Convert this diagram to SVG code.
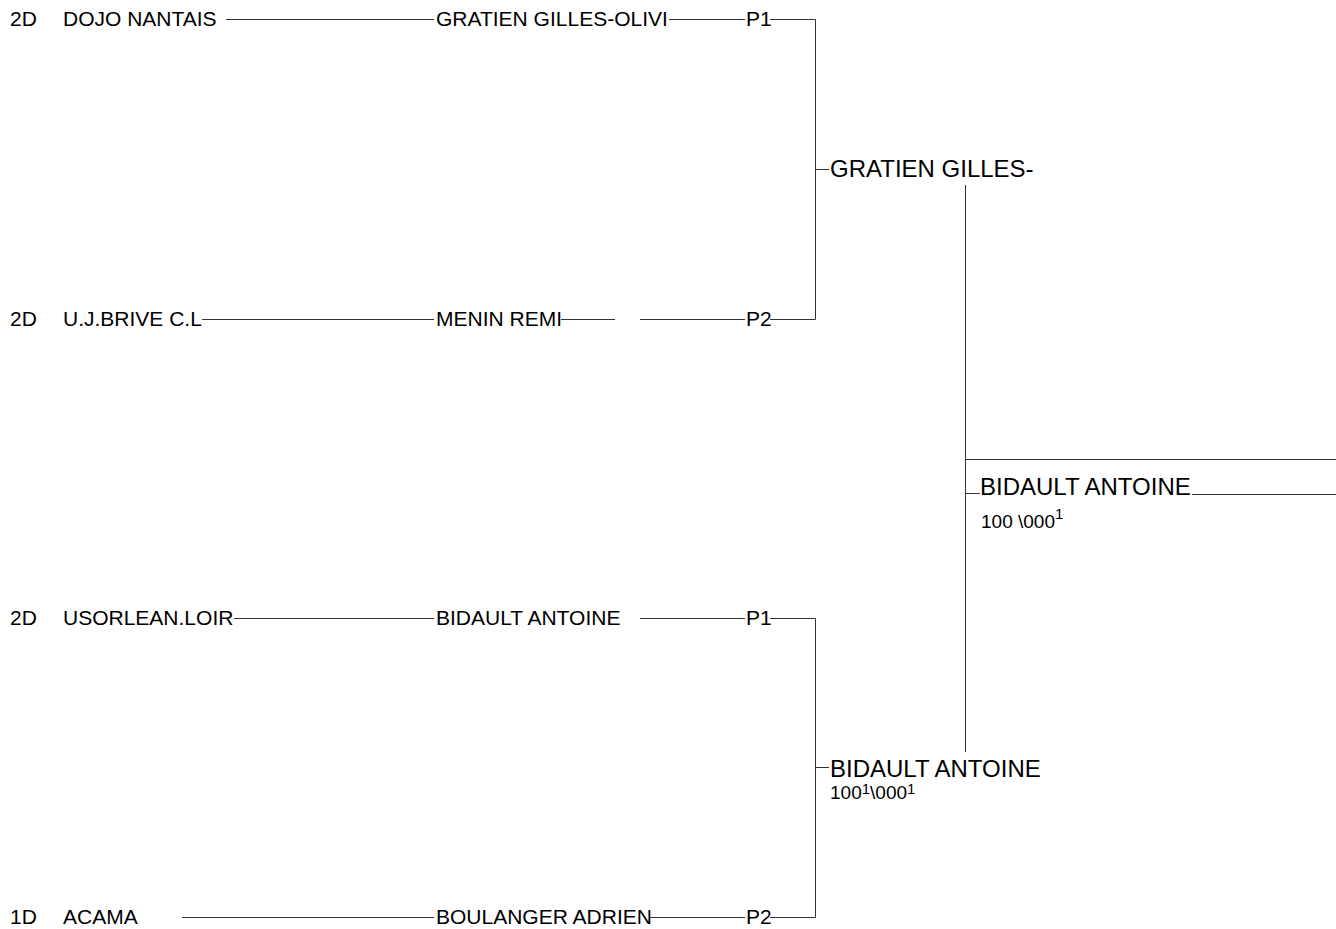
<svg xmlns="http://www.w3.org/2000/svg" width="1336" height="929" viewBox="0 0 1336 929">
<style>
text{font-family:"Liberation Sans",Arial,sans-serif;fill:#000}
.t{font-size:21px}
.b{font-size:24px}
.s{font-size:19px}
.sup{font-size:15px}
.ln{stroke:#333;stroke-width:1;fill:none}
</style>
<rect width="1336" height="929" fill="#fff"/>
<g id="connectors">
<path class="ln" d="M226 19.5H434M669 19.5H745M770 19.5H815.5V319.5H770M745 319.5H640M615 319.5H561M202 319.5H434"/>
<path class="ln" d="M234 618.5H434M640 618.5H745M770 618.5H815.5V917.5H770M745 917.5H650M182 917.5H434"/>
<path class="ln" d="M815 169.5H829M815 767.5H829M965.5 185V752"/>
<path class="ln" d="M965 459.5H1336M965 493.5H980M1192 494.5H1336"/>
</g>
<g id="r1"><text class="t" x="10" y="26">2D</text><text class="t" x="63" y="26">DOJO NANTAIS</text></g>
<g id="r1w"><text class="t" x="436" y="26">GRATIEN GILLES-OLIVI</text><text class="t" x="746" y="26">P1</text></g>
<g id="r2"><text class="t" x="10" y="326">2D</text><text class="t" x="63" y="326">U.J.BRIVE C.L</text></g>
<g id="r2w"><text class="t" x="436" y="326">MENIN REMI</text><text class="t" x="746" y="326">P2</text></g>
<g id="r3"><text class="t" x="10" y="625">2D</text><text class="t" x="63" y="625">USORLEAN.LOIR</text></g>
<g id="r3w"><text class="t" x="436" y="625">BIDAULT ANTOINE</text><text class="t" x="746" y="625">P1</text></g>
<g id="r4"><text class="t" x="10" y="924">1D</text><text class="t" x="63" y="924">ACAMA</text></g>
<g id="r4w"><text class="t" x="436" y="924">BOULANGER ADRIEN</text><text class="t" x="746" y="924">P2</text></g>
<g id="semi1"><text class="b" x="830" y="177">GRATIEN GILLES-</text></g>
<g id="semi2"><text class="b" x="830" y="777">BIDAULT ANTOINE</text><text class="s" x="830" y="799">100<tspan class="sup" dy="-5">1</tspan><tspan dy="5">\000</tspan><tspan class="sup" dy="-5">1</tspan></text></g>
<g id="final"><text class="b" x="980" y="495">BIDAULT ANTOINE</text><text class="s" x="981" y="528">100 \000<tspan class="sup" dy="-9">1</tspan></text></g>
</svg>
